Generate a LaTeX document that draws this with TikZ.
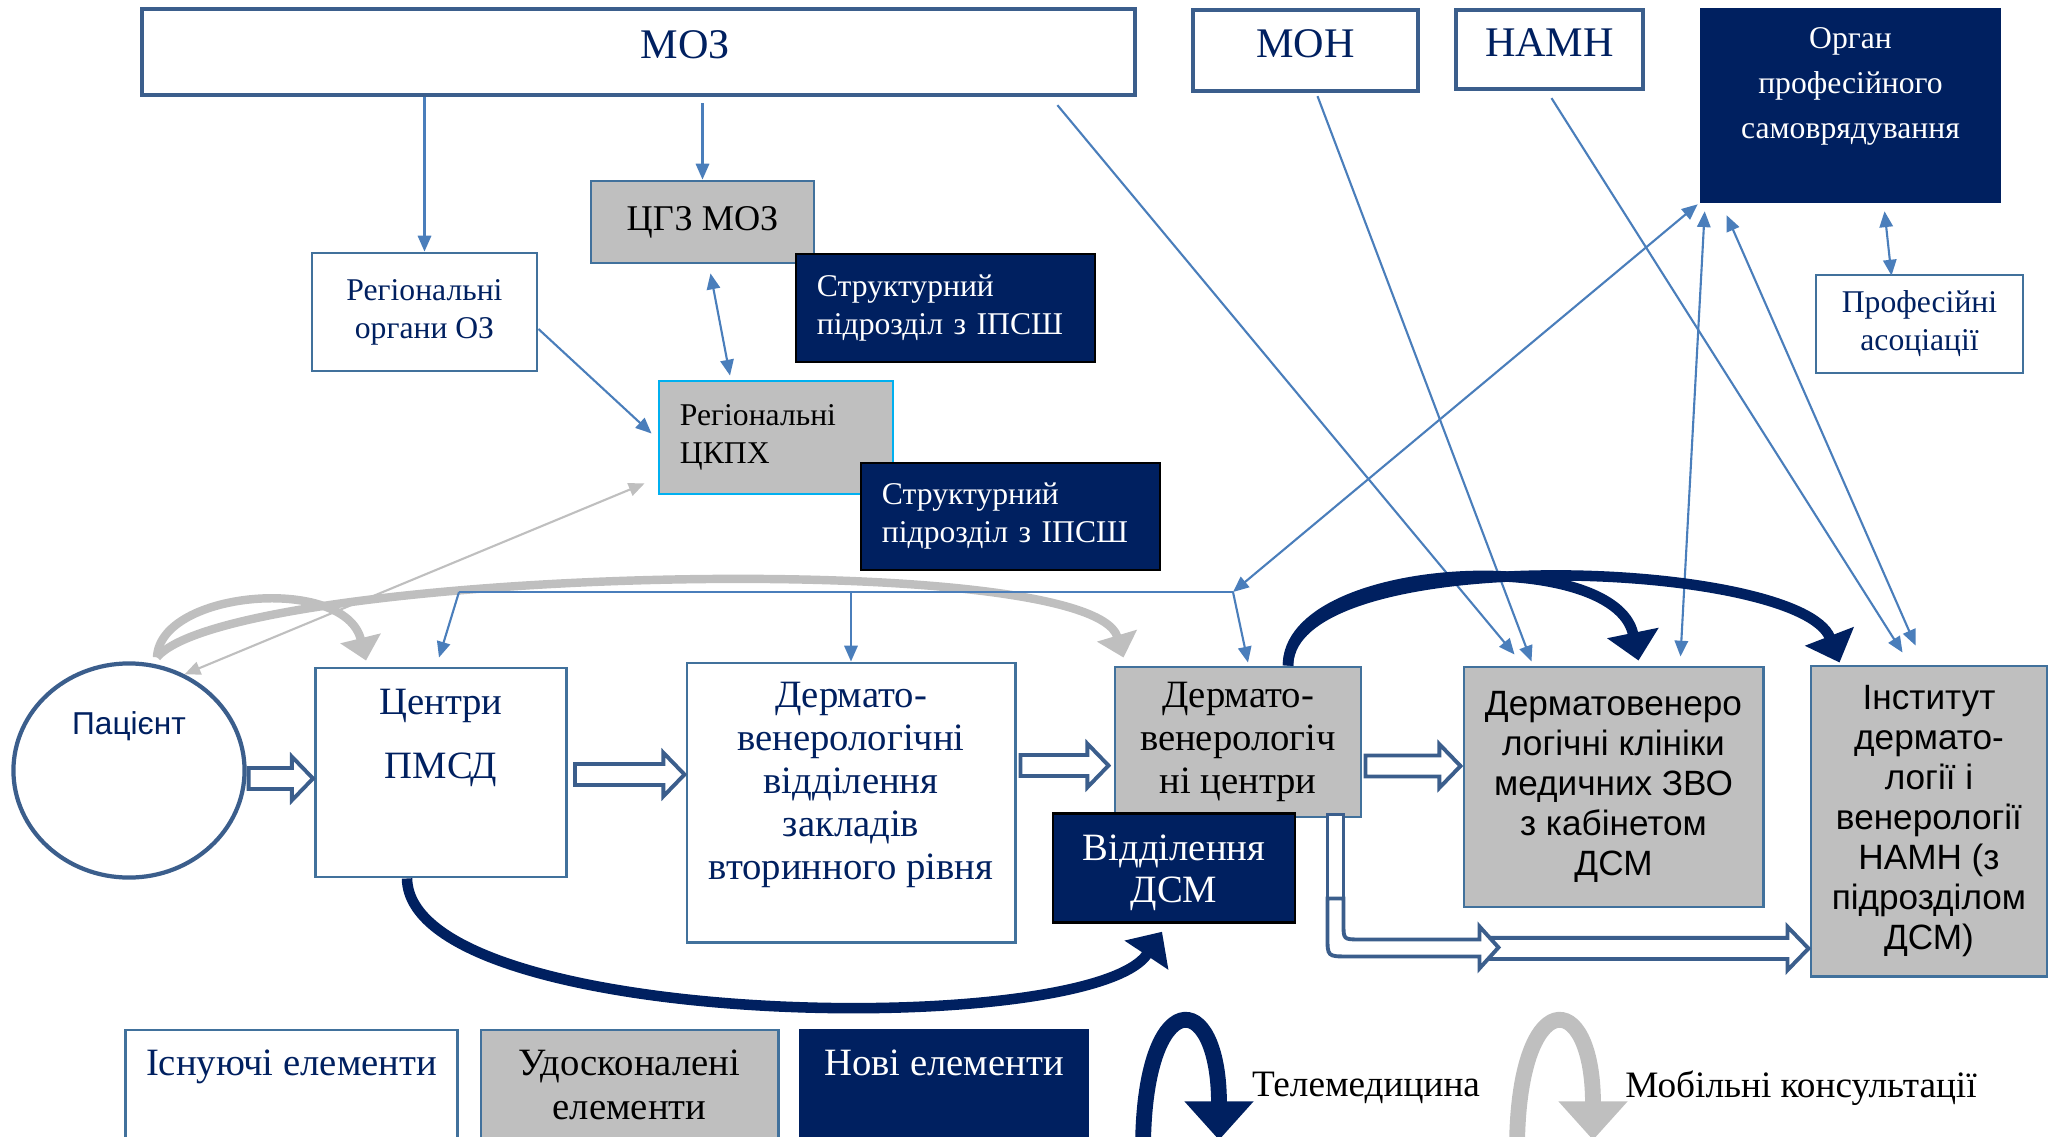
\documentclass[tikz,border=0pt]{standalone}
\usepackage{fontspec}
\setmainfont{Liberation Serif}
\setsansfont{Liberation Sans}
\definecolor{DSMnavy}{HTML}{002060}
\definecolor{DSMline}{HTML}{4A7EBB}
\definecolor{DSMframe}{HTML}{41719C}
\definecolor{DSMblock}{HTML}{3B5E8C}
\definecolor{DSMgrey}{HTML}{BFBFBF}
\definecolor{DSMcyan}{HTML}{00B0F0}
\usetikzlibrary{arrows.meta,calc,shapes.geometric,positioning}
\newcommand{\hollowarr}[2]{\draw[hollow] let \p1=#1, \p2=#2 in (\x1,\y1+3pt) -- (\x2-6pt,\y1+3pt) -- (\x2-6pt,\y1+6.2pt) -- (\x2,\y1) -- (\x2-6pt,\y1-6.2pt) -- (\x2-6pt,\y1-3pt) -- (\x1,\y1-3pt) -- cycle;}

\begin{document}
\begin{tikzpicture}[x=0.01cm,y=-0.01cm,>={Triangle[length=4.5pt,width=3.8pt]},
  exist/.style={draw=DSMframe,line width=0.8pt,fill=white,text=DSMnavy,align=center},
  better/.style={draw=DSMframe,line width=0.8pt,fill=DSMgrey,text=black,align=center},
  newbox/.style={draw=black,line width=0.7pt,fill=DSMnavy,text=white,align=center},
  fbig/.style={font=\fontsize{12}{14}\selectfont},
  fsmall/.style={font=\fontsize{9}{10.8}\selectfont},
  fmid/.style={font=\fontsize{11}{12.2}\selectfont},
  fsans/.style={font=\sffamily\fontsize{10}{11.4}\selectfont},
  fleg/.style={font=\fontsize{11}{12.5}\selectfont},
  conn/.style={DSMline,line width=0.6pt},
  arr/.style={conn,->},
  darr/.style={conn,<->},
  mob/.style={DSMgrey,line width=2.4pt,-{Triangle[length=6.5pt,width=11.5pt]}},
  tele/.style={DSMnavy,line width=3pt,-{Triangle[length=8pt,width=14.5pt]}},
  hollow/.style={draw=DSMblock,line width=1.1pt,fill=white}]
  \path[use as bounding box,clip] (0,0) rectangle (2057,1136);

  \node[exist,draw=DSMblock,line width=1.2pt,fbig,minimum width=9.93cm,minimum height=0.86cm] (moz) at (638.5,52) {\hspace*{0.94cm}\raisebox{4pt}{МОЗ}};
  \node[exist,draw=DSMblock,line width=1.2pt,fbig,minimum width=2.25cm,minimum height=0.81cm] (mon) at (1305.5,50.5) {\raisebox{4pt}{МОН}};
  \node[exist,draw=DSMblock,line width=1.2pt,fbig,minimum width=1.87cm,minimum height=0.79cm] (namn) at (1549.5,49.5) {\raisebox{4pt}{НАМН}};
  \node[newbox,draw=DSMnavy,font=\fontsize{9}{12.8}\selectfont,minimum width=2.99cm,minimum height=1.93cm] (organ) at (1850.5,105.5) {Орган\\професійного\\самоврядування\\~};
  \node[exist,fsmall,minimum width=2.07cm,minimum height=0.98cm] (prof) at (1919.5,324) {Професійні\\асоціації};
  \node[better,font=\fontsize{10.3}{12}\selectfont,minimum width=2.23cm,minimum height=0.82cm] (cgz) at (702.5,222) {ЦГЗ МОЗ};
  \node[newbox,fsmall,align=left,text width=2.57cm,inner xsep=0.21cm,minimum height=1.08cm] (strA) at (945.5,308) {Структурний\\підрозділ з ІПСШ};
  \node[exist,fsmall,minimum width=2.25cm,minimum height=1.18cm] (rog) at (424.5,312) {Регіональні\\органи ОЗ};
  \node[better,draw=DSMcyan,fsmall,align=left,text width=1.92cm,inner xsep=0.21cm,minimum height=1.13cm] (ckph) at (776,437.5) {Регіональні\\ЦКПХ};
  \node[newbox,fsmall,align=left,text width=2.57cm,inner xsep=0.21cm,minimum height=1.07cm] (strB) at (1010.5,516.5) {Структурний\\підрозділ з ІПСШ};

  \node[ellipse,draw=DSMblock,line width=1.2pt,fill=white,text=DSMnavy,align=center,font=\sffamily\fontsize{9}{11}\selectfont,minimum width=2.31cm,minimum height=2.14cm,inner sep=0pt] (pat) at (129,770.5) {Пацієнт\\[16pt]~};
  \node[exist,font=\fontsize{11}{18}\selectfont,minimum width=2.51cm,minimum height=2.09cm] (pmsd) at (441,772.5) {Центри\\ПМСД\\[4pt]~};
  \node[exist,fmid,minimum width=3.28cm,minimum height=2.79cm] (dvv) at (851,802.5) {Дермато-\\венерологічні\\відділення\\закладів\\вторинного рівня\\~};
  \node[better,fmid,minimum width=2.46cm,minimum height=1.5cm] (dvc) at (1238,742) {Дермато-\\венерологіч\\ні центри};
  \node[newbox,font=\fontsize{11}{12}\selectfont,minimum width=2.42cm,minimum height=1.04cm] (vdsm) at (1174,868) {\rule{0pt}{10pt}Відділення\\ДСМ};
  \node[better,fsans,minimum width=2.99cm,minimum height=2.4cm] (klin) at (1613.5,787) {Дерматовенеро\\логічні клініки\\медичних ЗВО\\з кабінетом\\ДСМ};
  \node[better,fsans,minimum width=2.36cm,minimum height=3.1cm] (inst) at (1929,821) {Інститут\\дермато-\\логії і\\венерології\\НАМН (з\\підрозділом\\ДСМ)};

  \node[exist,fleg,minimum width=3.31cm,minimum height=1.1cm] (legA) at (291.5,1085) {Існуючі елементи\\~};
  \node[better,fleg,minimum width=2.97cm,minimum height=1.1cm] (legB) at (629.5,1085) {Удосконалені\\елементи};
  \node[newbox,draw=DSMnavy,fleg,minimum width=2.88cm,minimum height=1.1cm] (legC) at (944,1085) {Нові елементи\\~};
  \node[font=\fontsize{10.6}{12}\selectfont] (legtele) at (1366,1088) {Телемедицина};
  \node[font=\fontsize{10.6}{12}\selectfont] (legmob) at (1801,1088) {Мобільні консультації};

  \draw[mob] ($(pat.north)+(28,-4)$) .. controls (160,590) and (345,575) .. ($(pmsd.north west)+(52,-6)$);
  \draw[mob] ($(pat.north)+(28,-4)$) .. controls (230,570) and (1090,545) .. ($(dvc.north west)+(10,-8)$);
  \draw[darr,DSMgrey] (pat.60) -- ($(ckph.south west)+(-13,-12)$);

  \coordinate (busl) at (459,592);
  \coordinate (busr) at (1233,592);
  \draw[arr] (rog.north |- moz.south) -- (rog.north);
  \draw[arr] ($(cgz.north |- moz.south)+(0,6)$) -- (cgz.north);
  \draw[darr] ($(cgz.south)+(8,9)$) -- ($(ckph.north)+(-46,-4)$);
  \draw[arr] ($(rog.east)+(0,17)$) -- ($(ckph.west)+(-6,-4)$);
  \draw[arr] ($(moz.south east)+(-80,8)$) -- ($(klin.north west)+(52,-11)$);
  \draw[arr] ($(mon.south)+(12,3)$) -- ($(klin.north west)+(69,-4)$);
  \draw[arr] ($(namn.south)+(2,7)$) -- ($(inst.north west)+(93,-12)$);
  \draw[darr] ($(organ.south west)+(5,8)$) -- ($(klin.north east)+(-84,-9)$);
  \draw[darr] ($(organ.south west)+(27,12)$) -- ($(inst.north west)+(106,-19)$);
  \draw[darr] ($(organ.south)+(34,8)$) -- ($(prof.north)+(-28,2)$);
  \draw[darr] ($(organ.south west)+(-2,1)$) -- (busr);
  \draw[conn] (busl) -- (busr);
  \draw[arr] (busl) -- ($(pmsd.north)+(-2,-9)$);
  \draw[arr] (dvv.north |- busl) -- (dvv.north);
  \draw[arr] (busr) -- ($(dvc.north)+(10,-3)$);

  \draw[tele] ($(pmsd.south)+(-34,0)$) .. controls (410,1030) and (1090,1040) .. ($(vdsm.south)+(-12,8)$);
  \draw[tele] ($(dvc.north)+(50,0)$) .. controls (1288,560) and (1615,545) .. ($(klin.north)+(25,-5)$);
  \draw[tele] ($(dvc.north)+(50,0)$) .. controls (1290,540) and (1800,560) .. ($(inst.north west)+(30,-2)$);

  \hollowarr{($(pat.east)+(2,8)$)}{($(pmsd.west)+(-1,0)$)}
  \hollowarr{($(pmsd.east)+(7,2)$)}{($(dvv.west)+(-1,0)$)}
  \hollowarr{($(dvv.east)+(4,-37)$)}{($(dvc.west)+(-5,0)$)}
  \hollowarr{($(dvc.east)+(3,24)$)}{($(klin.west)+(-2,0)$)}
  \coordinate (lstart) at ($(dvc.south east)+(-27,80)$);
  \draw[hollow] ($(lstart)+(-8,-84)$) rectangle ($(lstart)+(8,0)$);
  \hollowarr{($(lstart)+(154,50)$)}{($(inst.west)+(-1,0)$)}
  \draw[hollow,shift={(lstart)}] (-8,0) -- (-8,38) .. controls (-8,58) .. (12,58) -- (144,58) -- (144,70) -- (163,49) -- (144,28) -- (144,41) -- (24,41) .. controls (8,41) .. (8,25) -- (8,0) -- cycle;

  \draw[tele,line width=4.5pt,-{Triangle[length=11pt,width=19pt]}] (1143,1150) .. controls (1143,985) and (1219,985) .. (1219,1140);
  \draw[mob,line width=4.5pt,-{Triangle[length=11pt,width=19pt]}] (1517,1150) .. controls (1517,985) and (1593,985) .. (1593,1140);
\end{tikzpicture}
\end{document}
